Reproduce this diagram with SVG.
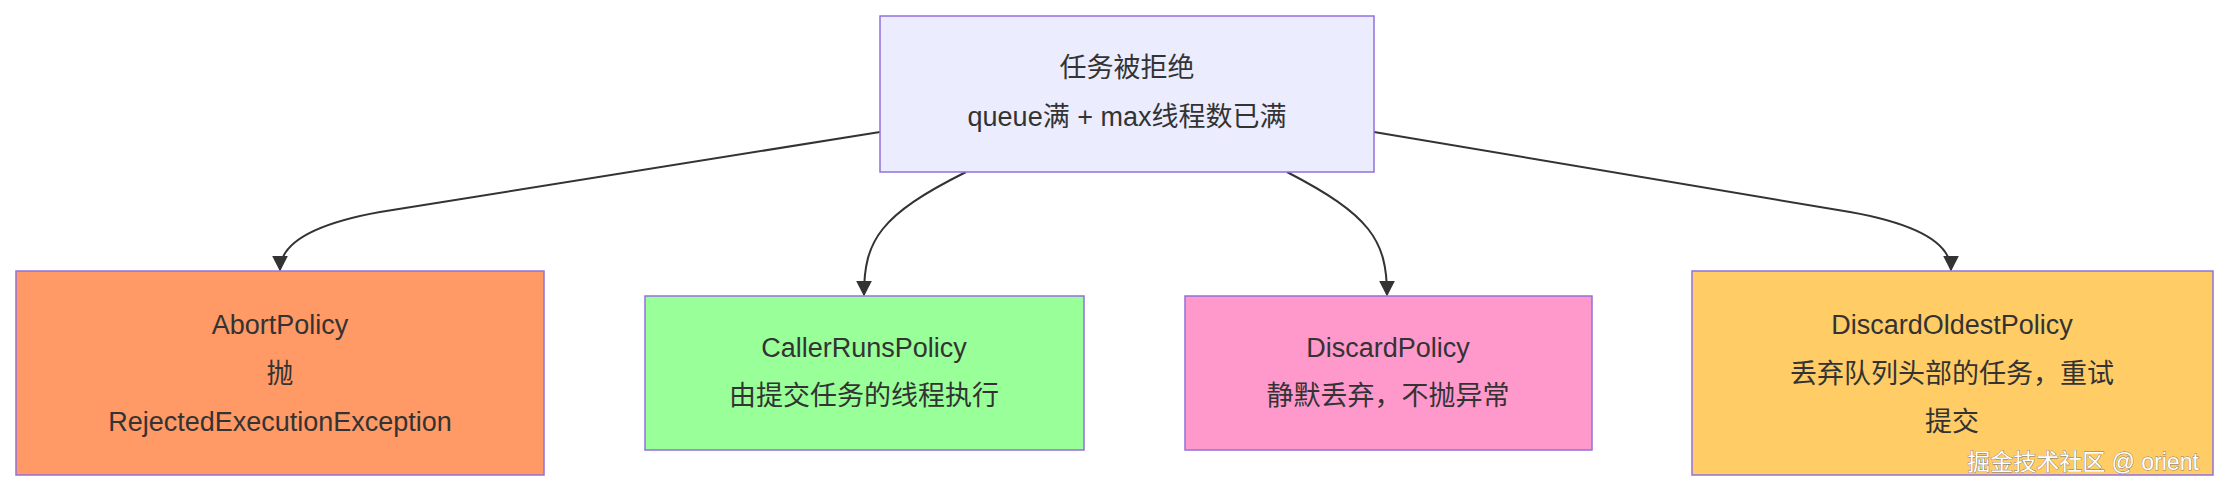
<svg xmlns="http://www.w3.org/2000/svg" width="2228" height="492" viewBox="0 0 2228 492">
<style>
.n{stroke:#9370DB;stroke-width:1.5}
text{font-family:"Liberation Sans","Noto Sans CJK SC",sans-serif;font-size:27px;fill:#333;text-anchor:middle}
.e{fill:none;stroke:#333;stroke-width:2}
</style>
<defs><marker id="a" viewBox="0 0 10 10" refX="9" refY="5" markerWidth="8" markerHeight="8" orient="auto"><path d="M0,0L10,5L0,10z" fill="#333"/></marker></defs>
<rect width="2228" height="492" fill="#fff"/>
<g id="edges">
<path class="e" marker-end="url(#a)" d="M880,132 L380,212 Q280,230 280,270"/>
<path class="e" marker-end="url(#a)" d="M966,172 C880,215 864,240 864,295"/>
<path class="e" marker-end="url(#a)" d="M1287,172 C1370,215 1387,240 1387,295"/>
<path class="e" marker-end="url(#a)" d="M1374,132 L1850,212 Q1951,230 1951,270"/>
</g>
<g id="top"><rect class="n" x="880" y="16" width="494" height="156" fill="#ECECFF"/><text x="1127" y="77">任务被拒绝</text><text x="1127" y="126">queue满 + max线程数已满</text></g>
<g id="abort"><rect class="n" x="16" y="271" width="528" height="204" fill="#FF9966"/><text x="280" y="334">AbortPolicy</text><text x="280" y="383">抛</text><text x="280" y="431">RejectedExecutionException</text></g>
<g id="caller"><rect class="n" x="645" y="296" width="439" height="154" fill="#99FF99"/><text x="864" y="357">CallerRunsPolicy</text><text x="864" y="405">由提交任务的线程执行</text></g>
<g id="discard"><rect class="n" x="1185" y="296" width="407" height="154" fill="#FF99CC"/><text x="1388" y="357">DiscardPolicy</text><text x="1388" y="405">静默丢弃，不抛异常</text></g>
<g id="oldest"><rect class="n" x="1692" y="271" width="521" height="204" fill="#FFCC66"/><text x="1952" y="334">DiscardOldestPolicy</text><text x="1952" y="383">丢弃队列头部的任务，重试</text><text x="1952" y="431">提交</text></g>
<text x="2083" y="470" style="font-size:23px;fill:#fff;stroke:#777;stroke-width:0.8;paint-order:stroke">掘金技术社区 @ orient</text>
</svg>
